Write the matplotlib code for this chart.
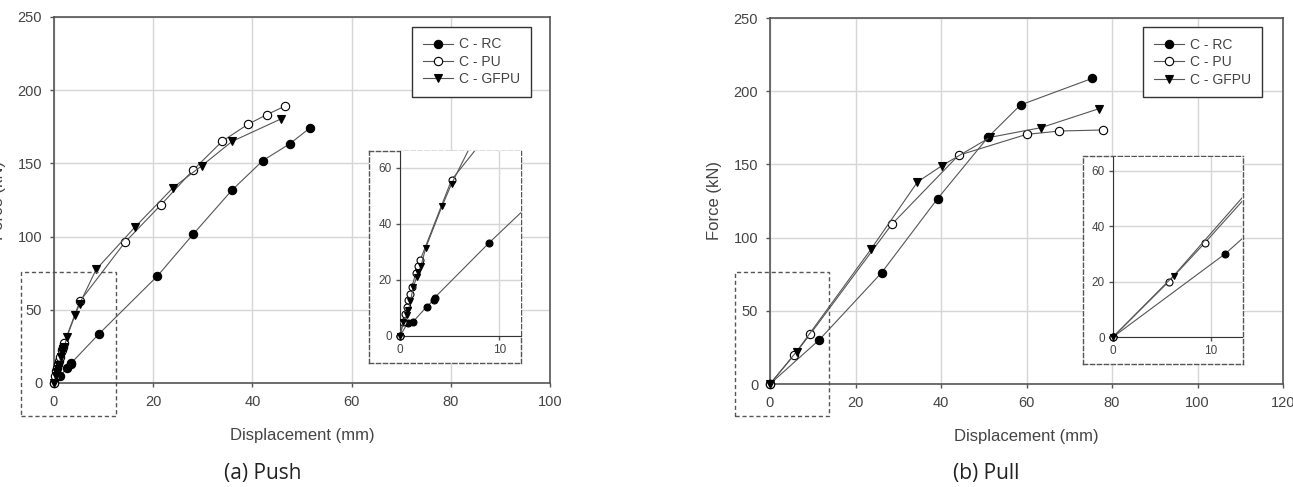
import matplotlib.pyplot as plt
from matplotlib.patches import Rectangle
from matplotlib.lines import Line2D

plt.rcParams['font.family'] = ['Liberation Sans', 'DejaVu Sans']

# push curves (a)
push_rc_x = [0, 0.8, 1.3, 2.7, 3.4, 3.5, 9.0, 20.8, 28.1, 35.9, 42.1, 47.5, 51.6]
push_rc_y = [0, 4.8, 5.0, 10.5, 12.8, 13.7, 33.3, 72.9, 101.8, 131.8, 151.9, 163.3, 174.2]
push_pu_x = [0, 0.3, 0.5, 0.7, 0.85, 1.0, 1.2, 1.6, 1.85, 2.05, 5.2, 14.3, 21.6, 28.0, 33.9, 39.1, 42.9, 46.5]
push_pu_y = [0, 5, 8, 10.5, 12.9, 15, 17.6, 22.4, 24.8, 27.2, 55.7, 96.1, 121.8, 145.3, 165.1, 176.7, 183.3, 189.0]
push_gf_x = [0, 0.35, 0.7, 0.85, 1.05, 1.35, 1.7, 1.85, 2.1, 2.6, 4.25, 5.2, 8.5, 16.3, 24.0, 29.8, 35.9, 45.7]
push_gf_y = [0, 5, 7.5, 9.3, 12.5, 17.6, 21.2, 23, 24.8, 31.5, 46.4, 54.3, 77.6, 106.4, 133.4, 148.4, 165.0, 180.3]

# pull curves (b)
pull_rc_x = [0, 11.5, 26.1, 39.2, 51.1, 58.6, 75.4]
pull_rc_y = [0, 30.1, 76.0, 126.6, 168.9, 190.6, 208.8]
pull_pu_x = [0, 5.7, 9.4, 28.5, 44.1, 60.0, 67.7, 77.8]
pull_pu_y = [0, 20, 34, 109.1, 156.2, 170.5, 172.8, 173.5]
pull_gf_x = [0, 6.2, 23.6, 34.5, 40.2, 51.5, 63.4, 77.0]
pull_gf_y = [0, 22.1, 92.0, 138.0, 149.1, 168.5, 175.1, 188.1]

labels = ['C - RC', 'C - PU', 'C - GFPU']
txt = '#444444'
spc = '#555555'
lc = '#555555'
grid_c = '#d6d6d6'

styles = [dict(marker='o', mfc='black', mec='black'),
          dict(marker='o', mfc='white', mec='black'),
          dict(marker='v', mfc='black', mec='black')]


def draw_curves(ax, series, ms, clip):
    for (x, y), st in zip(series, styles):
        ax.plot(x, y, color=lc, lw=0.8, ms=ms, mew=0.8, clip_on=clip, zorder=3, **st)
        if clip:
            ax.plot(x[:1], y[:1], ms=ms, mew=0.8, clip_on=False, zorder=4, ls='none', **st)


def style_axes(ax, xmax, xstep, ystep, ymax, fs, pad):
    ax.set_xlim(0, xmax)
    ax.set_ylim(0, ymax)
    ax.set_xticks(range(0, int(xmax) + 1, xstep))
    ax.set_yticks(range(0, int(ymax) + 1, ystep))
    ax.grid(True, color=grid_c, lw=1)
    ax.set_axisbelow(True)
    ax.tick_params(direction='out', length=3, width=1, colors=spc,
                   labelcolor=txt, labelsize=fs, pad=pad)


fig = plt.figure(figsize=(12.93, 4.87), dpi=100)

panels = [
    dict(rect=[54 / 1293, 104 / 487, 496 / 1293, 366 / 487], xmax=100,
         series=[(push_rc_x, push_rc_y), (push_pu_x, push_pu_y), (push_gf_x, push_gf_y)],
         zoom=(-6.65, -22.5, 19.15, 98.3),
         box=[369 / 1293, 124 / 487, 152 / 1293, 212 / 487],
         inset=[400 / 1293, 151 / 487, 121 / 1293, 185 / 487], ixmax=12.2, iymax=66,
         leg=(0.9617, 0.9727), cap='(a) Push', capx=263 / 1293),
    dict(rect=[770 / 1293, 103 / 487, 513 / 1293, 366 / 487], xmax=120,
         series=[(pull_rc_x, pull_rc_y), (pull_pu_x, pull_pu_y), (pull_gf_x, pull_gf_y)],
         zoom=(-8.2, -21.9, 22.0, 98.4),
         box=[1083 / 1293, 123 / 487, 160 / 1293, 208 / 487],
         inset=[1113 / 1293, 150 / 487, 129 / 1293, 180 / 487], ixmax=13.2, iymax=65,
         leg=(0.959, 0.975), cap='(b) Pull', capx=986 / 1293),
]

for p in panels:
    ax = fig.add_axes(p['rect'])
    style_axes(ax, p['xmax'], 20, 50, 250, 10.5, 5.5)
    for s in ax.spines.values():
        s.set_color(spc)
        s.set_linewidth(1.2)
    draw_curves(ax, p['series'], 6, False)
    ax.set_xlabel('Displacement (mm)', fontsize=12, color=txt)
    # the left panel's label sits partly off the figure edge, as in the source
    ax.set_ylabel('Force (kN)', fontsize=12, color=txt)
    ax.xaxis.set_label_coords(0.5, -0.122)
    ax.yaxis.set_label_coords(-48 / (p['rect'][2] * 1293), 0.5)

    zx, zy, zw, zh = p['zoom']
    ax.add_patch(Rectangle((zx, zy), zw, zh, fill=False, ls=(0, (3, 2)),
                           lw=1, ec=spc, clip_on=False, zorder=5))

    handles = [Line2D([], [], color=lc, lw=0.8, ms=6, mew=0.8, **st) for st in styles]
    leg = ax.legend(handles, labels, loc='upper right', bbox_to_anchor=p['leg'],
                    borderaxespad=0, fontsize=10, fancybox=False, framealpha=1,
                    edgecolor='#333333', handlelength=2.2, handletextpad=0.45,
                    labelspacing=0.25, borderpad=0.75)
    leg.get_frame().set_linewidth(1)
    for t in leg.get_texts():
        t.set_color(txt)

    # dashed frame for the inset
    bx = fig.add_axes(p['box'])
    bx.set_xticks([])
    bx.set_yticks([])
    bx.set_facecolor('white')
    for s in bx.spines.values():
        s.set_linestyle((0, (3, 2)))
        s.set_color(spc)
        s.set_linewidth(1)

    ins = fig.add_axes(p['inset'])
    style_axes(ins, p['ixmax'], 10, 20, p['iymax'], 8.5, 3)
    ins.spines['top'].set_visible(False)
    ins.spines['right'].set_visible(False)
    ins.spines['left'].set_color('#333333')
    ins.spines['bottom'].set_color('#333333')
    draw_curves(ins, p['series'], 5, True)

    fig.text(p['capx'], 1 - 473 / 487, p['cap'], ha='center', va='center',
             fontsize=15, family='Open Sans', color='#222222')

fig.savefig('out.png', dpi=100)
